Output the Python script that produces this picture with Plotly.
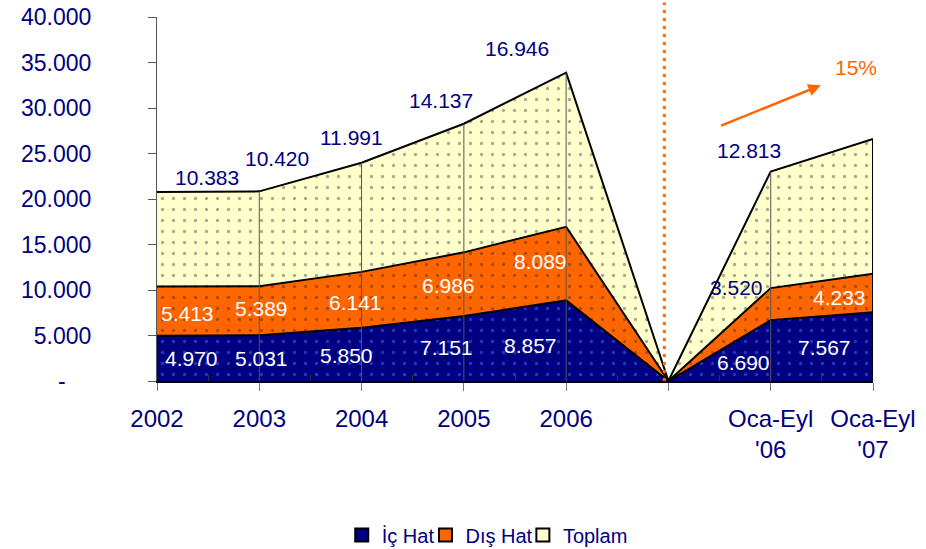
import plotly.graph_objects as go

# ---- data ----
categories = ["2002", "2003", "2004", "2005", "2006", "", "Oca-Eyl<br>'06", "Oca-Eyl<br>'07"]
ic_hat = [4970, 5031, 5850, 7151, 8857, 0, 6690, 7567]
dis_hat = [5413, 5389, 6141, 6986, 8089, 0, 3520, 4233]
toplam = [10383, 10420, 11991, 14137, 16946, 0, 12813, 14795]
label_skip = [False, False, False, False, False, True, False, False]
y_tick_vals = [0, 5000, 10000, 15000, 20000, 25000, 30000, 35000, 40000]
y_tick_text = ["", "5.000", "10.000", "15.000", "20.000",
               "25.000", "30.000", "35.000", "40.000"]
zero_label = "-"
growth_text = "15%"

# ---- layout helpers (label placement offsets, in axis units) ----
ic_dx = [0.342, 0.026, -0.143, -0.165, -0.344, 0, -0.262, -0.479]
ic_dy = [42, 12, -68, 160, -472, 0, -1257, -47]
dis_dx = [0.303, 0.017, -0.055, -0.155, -0.246, 0, -0.330, -0.323]
dis_dy = [-204, 297, -240, -95, 176, 0, 1880, -453]
top_dx = [0.489, 0.173, -0.094, -0.224, -0.481, 0, -0.213, 0.058]
top_dy = [1652, 3665, 2831, 2605, 2701, 0, 2362, 3515]
legend_x = [0.258, 0.375, 0.511]

NAVY = "#000080"
ORANGE = "#FF6600"
YELLOW = "#FFFFCC"
FONT = "Liberation Sans, Arial, sans-serif"

x = list(range(len(categories)))

def fmt(v):
    return f"{v:,}".replace(",", ".")

fig = go.Figure()
series = [
    ("İç Hat", ic_hat, NAVY, "#4070ff"),
    ("Dış Hat", dis_hat, ORANGE, "#5a3010"),
    ("Toplam", toplam, YELLOW, "#555555"),
]
for name, vals, col, dot in series:
    fig.add_trace(go.Scatter(
        x=x, y=vals, name=name, mode="lines", stackgroup="s", showlegend=False,
        line=dict(color="black", width=2), fillcolor=col,
        fillpattern=dict(shape=".", fgcolor=dot, bgcolor=col, size=11, solidity=0.07),
        hoverinfo="skip"))
# legend entries as square markers, one legend each
legend_ids = ["legend", "legend2", "legend3"]
for (name, vals, col, dot), lid in zip(series, legend_ids):
    fig.add_trace(go.Scatter(
        x=[None], y=[None], name=name, mode="markers", legend=lid,
        marker=dict(symbol="square", size=13, color=col, line=dict(color="black", width=2)),
        hoverinfo="skip"))

annotations = []
shapes = []
for i in x:
    top = ic_hat[i] + dis_hat[i] + toplam[i]
    if 0 < i < len(x) - 1 and not label_skip[i]:
        shapes.append(dict(type="line", xref="x", yref="y", x0=i, x1=i, y0=0, y1=top,
                           line=dict(color="#555555", width=1)))
    if i == len(x) - 1:
        shapes.append(dict(type="line", xref="x", yref="y", x0=i, x1=i, y0=0, y1=top,
                           line=dict(color="black", width=2)))
    if label_skip[i]:
        continue
    annotations.append(dict(x=i + ic_dx[i], y=ic_hat[i] / 2 + ic_dy[i], text=fmt(ic_hat[i]),
                            showarrow=False, font=dict(color="white", size=21, family=FONT)))
    dis_col = NAVY if i == 6 else "white"
    annotations.append(dict(x=i + dis_dx[i], y=ic_hat[i] + dis_hat[i] / 2 + dis_dy[i],
                            text=fmt(dis_hat[i]), showarrow=False,
                            font=dict(color=dis_col, size=21, family=FONT)))
    annotations.append(dict(x=i + top_dx[i], y=top + top_dy[i], text=fmt(toplam[i]),
                            showarrow=False, font=dict(color=NAVY, size=21, family=FONT)))

# zero tick label
annotations.append(dict(x=-0.141, xref="paper", y=0, yref="y", text=zero_label,
                        showarrow=False, font=dict(color=NAVY, size=23, family=FONT)))
# growth arrow
annotations.append(dict(x=6.49, y=32500, ax=5.50, ay=28000, xref="x", yref="y",
                        axref="x", ayref="y", text="", showarrow=True,
                        arrowhead=2, arrowsize=1, arrowwidth=2.5, arrowcolor=ORANGE))
annotations.append(dict(x=6.835, y=34400, text=growth_text, showarrow=False,
                        font=dict(color=ORANGE, size=21, family=FONT)))

# separator dotted line
shapes.append(dict(type="line", xref="x", yref="paper", x0=4.96, x1=4.96, y0=0, y1=1.04,
                   line=dict(color=ORANGE, width=3, dash="3px,5px")))

legend_common = dict(orientation="h", xanchor="left", y=-0.423, yanchor="middle",
                     font=dict(size=20, color=NAVY, family=FONT), itemclick=False,
                     itemdoubleclick=False, bgcolor="rgba(0,0,0,0)")

fig.update_layout(
    width=926, height=549,
    margin=dict(l=157, r=53, t=17, b=168, autoexpand=False),
    paper_bgcolor="white", plot_bgcolor="white",
    font=dict(family=FONT, color=NAVY),
    showlegend=True,
    legend=dict(x=legend_x[0], **legend_common),
    legend2=dict(x=legend_x[1], **legend_common),
    legend3=dict(x=legend_x[2], **legend_common),
    annotations=annotations,
    shapes=shapes,
)
fig.update_xaxes(
    range=[0, 7], tickmode="array", tickvals=x, ticktext=categories, automargin=False,
    showgrid=False, zeroline=False, showline=True, linecolor="black", linewidth=2,
    ticks="outside", ticklen=8, tickcolor="#777777", tickwidth=1,
    tickfont=dict(size=24, color=NAVY, family=FONT), ticklabelstandoff=7,
    ticklabeloverflow="allow",
    minor=dict(tickvals=[v + 0.5 for v in x[:-1]], ticks="inside", ticklen=6,
               tickcolor="#333333", showgrid=False),
)
fig.update_yaxes(
    range=[0, 40000], tickmode="array", tickvals=y_tick_vals, ticktext=y_tick_text,
    automargin=False, ticklabeloverflow="allow",
    showgrid=False, zeroline=False, showline=True, linecolor="#555555", linewidth=1,
    ticks="outside", ticklen=8, tickcolor="#555555",
    tickfont=dict(size=23, color=NAVY, family=FONT), ticklabelstandoff=52,
)

fig.write_html("out.html", config={"displayModeBar": False},
               post_script="document.body.style.margin='0';")
